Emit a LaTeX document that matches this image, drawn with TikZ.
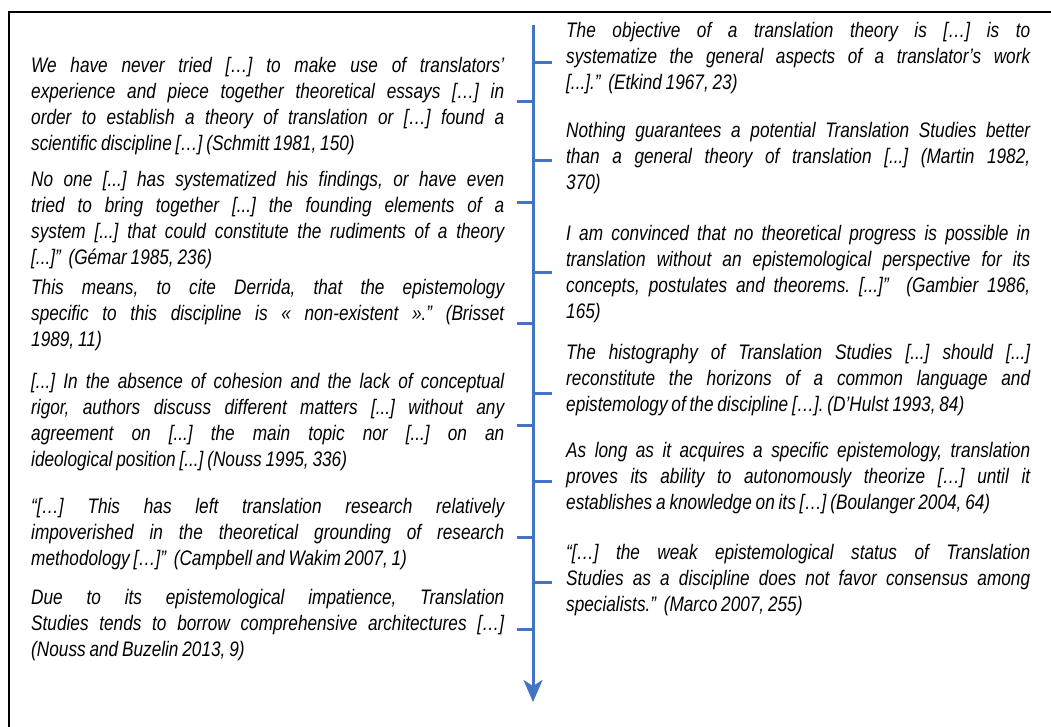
\documentclass[tikz,border=0pt]{standalone}
\usepackage{fontspec}
\setmainfont{Liberation Sans}[FakeStretch=0.82, WordSpace=0.8]
\definecolor{axisblue}{RGB}{68,114,196}
\usetikzlibrary{arrows.meta,positioning}
\newcommand{\brk}{\linebreak{}}
\frenchspacing

\begin{document}
\begin{tikzpicture}[x=1pt, y=-1pt,
    quote/.style={anchor=north west, inner sep=0pt, align=justify,
      font=\fontsize{21}{26}\selectfont\itshape},
    leftq/.style={quote, text width=473pt},
    rightq/.style={quote, text width=464pt},
    tickline/.style={axisblue, line width=3pt}]
    \useasboundingbox (0,0) rectangle (1051,727);

    % Frame
    \draw[line width=1.4pt] (1051,12) -- (9,12) -- (9,727);

    % Axis
    \coordinate (top) at (533,25);
    \coordinate (bot) at (533,702);
    \draw[tickline, -{Stealth[width=19pt, length=22pt, inset=6pt]}] (top) -- (bot);

    % Ticks
    \foreach \y [count=\i] in {102,203,323,425,537,629} {
      \coordinate (lt\i) at (517,\y);
      \draw[tickline] (lt\i) -- (lt\i -| top);
    }
    \foreach \y [count=\i] in {63,161,272,393,481,582} {
      \coordinate (rt\i) at (552,\y);
      \draw[tickline] (rt\i -| top) -- (rt\i);
    }

    % Left quotes
    \node[leftq] (schmitt) at (31,53.8) {\strut We have never tried […] to make use of translators’\brk experience and piece together theoretical essays […] in\brk order to establish a theory of translation or […] found a\brk scientific discipline […] (Schmitt 1981, 150)};
    \node[leftq] (gemar) at (31,167.8) {\strut No one [...] has systematized his findings, or have even\brk tried to bring together [...] the founding elements of a\brk system [...] that could constitute the rudiments of a theory\brk [...]”\ \ (Gémar 1985, 236)};
    \node[leftq] (brisset) at (31,275.8) {\strut This means, to cite Derrida, that the epistemology\brk specific to this discipline is « non-existent ».” (Brisset\brk 1989, 11)};
    \node[leftq] (nouss) at (31,369.8) {\strut{}[...] In the absence of cohesion and the lack of conceptual\brk rigor, authors discuss different matters [...] without any\brk agreement on [...] the main topic nor [...] on an\brk ideological position [...] (Nouss 1995, 336)};
    \node[leftq] (campbell) at (31,494.8) {\strut “[…] This has left translation research relatively\brk impoverished in the theoretical grounding of research\brk methodology […]”\ \ (Campbell and Wakim 2007, 1)};
    \node[leftq] (buzelin) at (31,585.8) {\strut Due to its epistemological impatience, Translation\brk Studies tends to borrow comprehensive architectures […]\brk (Nouss and Buzelin 2013, 9)};

    % Right quotes
    \node[rightq] (etkind) at (566,18.8) {\strut The objective of a translation theory is […] is to\brk systematize the general aspects of a translator’s work\brk [...].”\ \ (Etkind 1967, 23)};
    \node[rightq] (martin) at (566,118.8) {\strut Nothing guarantees a potential Translation Studies better\brk than a general theory of translation [...] (Martin 1982,\brk 370)};
    \node[rightq] (gambier) at (566,221.8) {\strut I am convinced that no theoretical progress is possible in\brk translation without an epistemological perspective for its\brk concepts, postulates and theorems. [...]”\ \ (Gambier 1986,\brk 165)};
    \node[rightq] (hulst) at (566,340.8) {\strut The histography of Translation Studies [...] should [...]\brk reconstitute the horizons of a common language and\brk epistemology of the discipline […]. (D’Hulst 1993, 84)};
    \node[rightq] (boulanger) at (566,438.8) {\strut As long as it acquires a specific epistemology, translation\brk proves its ability to autonomously theorize […] until it\brk establishes a knowledge on its […] (Boulanger 2004, 64)};
    \node[rightq] (marco) at (566,540.8) {\strut “[…] the weak epistemological status of Translation\brk Studies as a discipline does not favor consensus among\brk specialists.”\ \ (Marco 2007, 255)};
\end{tikzpicture}
\end{document}
